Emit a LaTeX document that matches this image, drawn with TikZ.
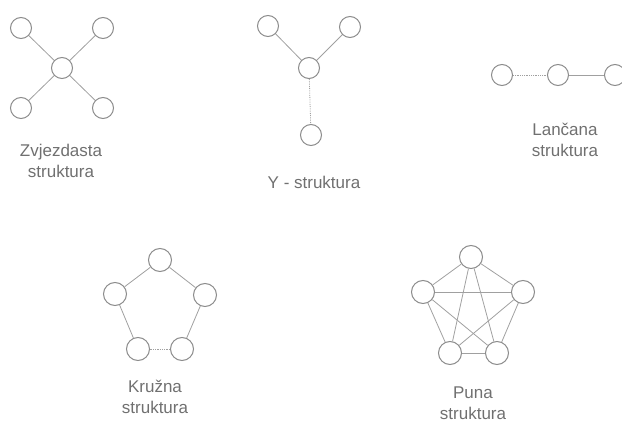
\documentclass[tikz,border=0pt]{standalone}
\usepackage{fontspec}
\setmainfont{Liberation Sans}
\usepackage{xcolor}
\definecolor{KSring}{HTML}{8C8C8C}
\definecolor{KSline}{HTML}{A0A0A0}
\definecolor{KStext}{HTML}{707070}
\usepackage{tikz}
\usetikzlibrary{positioning}

\begin{document}
\begin{tikzpicture}[
  x=1pt, y=-1pt,
  krug/.style={
    circle, draw=KSring, line width=1pt, fill=white,
    minimum size=21pt, inner sep=0pt
  },
  veliki/.style={krug, minimum size=23pt},
  veza/.style={draw=KSline, line width=0.8pt},
  tockasta/.style={veza, densely dotted},
  natpis/.style={font=\fontsize{17}{20.5}\selectfont, text=KStext, align=center},
]
\useasboundingbox (0,0) rectangle (622,425);

% Zvjezdasta struktura
\node[krug] (zs) at (62,68) {};
\node[krug] (z1) at (21,28) {};
\node[krug] (z2) at (103,28) {};
\node[krug] (z3) at (21,108) {};
\node[krug] (z4) at (103,108) {};
\foreach \k in {1,...,4} \draw[veza] (zs) -- (z\k);
\node[natpis] (zlab) at (61,161) {Zvjezdasta\\struktura};

% Y - struktura
\node[krug] (ys) at (309,68) {};
\node[krug] (y1) at (268,26) {};
\node[krug] (y2) at (350,27) {};
\node[krug] (y3) at (311,135) {};
\draw[veza] (ys) -- (y1);
\draw[veza] (ys) -- (y2);
\draw[tockasta] (ys) -- (y3);
\node[natpis] (ylab) at (314,182) {Y - struktura};

% Lancana struktura
\node[krug] (l1) at (502,75) {};
\node[krug] (l2) at (558,75) {};
\node[krug] (l3) at (615,75) {};
\draw[tockasta] (l1) -- (l2);
\draw[veza] (l2) -- (l3);
\node[natpis] (llab) at (565,140) {Lančana\\struktura};

% Kruzna struktura
\node[veliki] (k1) at (160,260) {};
\node[veliki] (k2) at (205,295) {};
\node[veliki] (k3) at (182,349) {};
\node[veliki] (k4) at (138,349) {};
\node[veliki] (k5) at (115,294) {};
\draw[veza] (k1) -- (k2);
\draw[veza] (k2) -- (k3);
\draw[tockasta] (k3) -- (k4);
\draw[veza] (k4) -- (k5);
\draw[veza] (k5) -- (k1);
\node[natpis] (klab) at (155,397) {Kružna\\struktura};

% Puna struktura
\node[veliki] (p1) at (471,257) {};
\node[veliki] (p2) at (523,292) {};
\node[veliki] (p3) at (497,353) {};
\node[veliki] (p4) at (450,353) {};
\node[veliki] (p5) at (423,292) {};
\foreach \a/\b in {1/2,2/3,3/4,4/5,5/1,1/3,1/4,2/4,2/5,3/5}
  \draw[veza] (p\a) -- (p\b);
\node[natpis] (plab) at (473,403) {Puna\\struktura};

\end{tikzpicture}
\end{document}
